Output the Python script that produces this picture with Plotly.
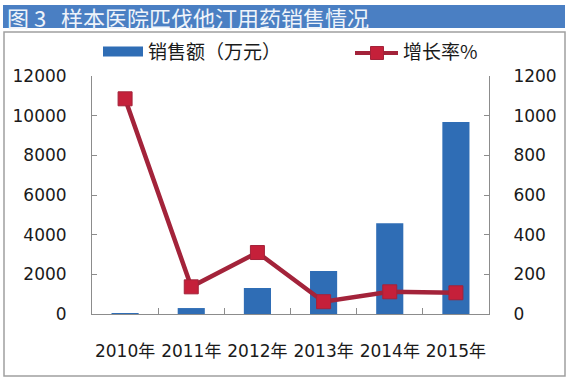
import plotly.graph_objects as go

years = ["2010年", "2011年", "2012年", "2013年", "2014年", "2015年"]
sales = [50, 300, 1310, 2170, 4580, 9680]
growth = [1085, 137, 310, 62, 112, 107]
left_ticks = [0, 2000, 4000, 6000, 8000, 10000, 12000]
right_ticks = [0, 200, 400, 600, 800, 1000, 1200]
bar_name = "销售额（万元）"
line_name = "增长率%"
title_text = "图 3 &nbsp;&nbsp;样本医院匹伐他汀用药销售情况"

FONT = "DejaVu Sans, Noto Sans CJK SC"
CJK = "Noto Sans CJK SC"
W, H = 568, 381
BAR_C = "#2F6DB5"
LINE_C = "#A3233A"
MARK_C = "#C5203A"

fig = go.Figure()
fig.add_trace(go.Bar(
    x=years, y=sales, name=bar_name,
    marker=dict(color=BAR_C, line=dict(width=0)),
    width=0.41, yaxis="y", showlegend=False,
))
fig.add_trace(go.Scatter(
    x=years, y=growth, name=line_name, mode="lines+markers",
    line=dict(color=LINE_C, width=4.5),
    marker=dict(symbol="square", size=14, color=MARK_C,
                line=dict(color=LINE_C, width=1)),
    yaxis="y2", showlegend=False,
))

ml, mr, mt, mb = 92, 79, 76, 67
fig.update_layout(
    width=W, height=H,
    margin=dict(l=ml, r=mr, t=mt, b=mb, pad=0, autoexpand=False),
    paper_bgcolor="white", plot_bgcolor="white",
    font=dict(family=FONT, size=17, color="#1a1a1a"),
    showlegend=False,
    xaxis=dict(
        type="category", showgrid=False, showline=True, linecolor="#8c8c8c", linewidth=1,
        ticks="inside", ticklen=6, tickcolor="#8c8c8c", tickson="boundaries",
        ticklabelstandoff=22, tickangle=0, automargin=False, fixedrange=True,
        tickfont=dict(size=17),
    ),
    yaxis=dict(
        range=[0, 12000], tickvals=left_ticks, ticktext=[str(v) for v in left_ticks],
        showgrid=False, showline=True, linecolor="#8c8c8c", linewidth=1,
        ticks="inside", ticklen=5, tickcolor="#8c8c8c", ticklabelstandoff=21,
        zeroline=False, automargin=False, tickfont=dict(size=17),
    ),
    yaxis2=dict(
        range=[0, 1200], tickvals=right_ticks, ticktext=[str(v) for v in right_ticks],
        overlaying="y", side="right", showgrid=False, showline=True,
        linecolor="#8c8c8c", linewidth=1, ticks="inside", ticklen=5,
        tickcolor="#8c8c8c", ticklabelstandoff=20, zeroline=False,
        automargin=False, tickfont=dict(size=17),
    ),
)

PW, PH = W - ml - mr, H - mt - mb
def px(x):
    return (x - ml) / PW
def py(y):
    return (H - mb - y) / PH

# chart frame border
fig.add_shape(type="rect", xref="paper", yref="paper",
              x0=px(4), x1=px(565), y0=py(376), y1=py(32),
              line=dict(color="#a0a0a0", width=1.5), fillcolor="rgba(0,0,0,0)", layer="below")
# title bar
fig.add_shape(type="rect", xref="paper", yref="paper",
              x0=px(3), x1=px(565), y0=py(28), y1=py(5),
              line=dict(width=0), fillcolor="#4A7FC3", layer="below")
fig.add_annotation(xref="paper", yref="paper",
                   x=px(5), y=py(16.5),
                   xanchor="left", yanchor="middle", showarrow=False,
                   text=title_text,
                   font=dict(family=CJK, size=22, color="#EEF3FA"))

# legend (drawn manually to mimic the wide bar swatch)
fig.add_shape(type="rect", xref="paper", yref="paper",
              x0=px(103), x1=px(143), y0=py(56.5), y1=py(46.5),
              line=dict(width=0), fillcolor=BAR_C)
fig.add_annotation(xref="paper", yref="paper", x=px(146), y=py(51),
                   xanchor="left", yanchor="middle", showarrow=False,
                   text=bar_name, font=dict(family=CJK, size=19, color="#1a1a1a"))
fig.add_shape(type="line", xref="paper", yref="paper",
              x0=px(355), x1=px(398), y0=py(53), y1=py(53),
              line=dict(color=LINE_C, width=4))
fig.add_shape(type="rect", xref="paper", yref="paper",
              x0=px(370.5), x1=px(383.5), y0=py(59.5), y1=py(46.5),
              line=dict(color=LINE_C, width=1), fillcolor=MARK_C)
fig.add_annotation(xref="paper", yref="paper", x=px(401), y=py(51),
                   xanchor="left", yanchor="middle", showarrow=False,
                   text=line_name, font=dict(family=CJK, size=19, color="#1a1a1a"))

fig.write_html("out.html", config={"displayModeBar": False},
               post_script="document.body.style.margin='0';")
